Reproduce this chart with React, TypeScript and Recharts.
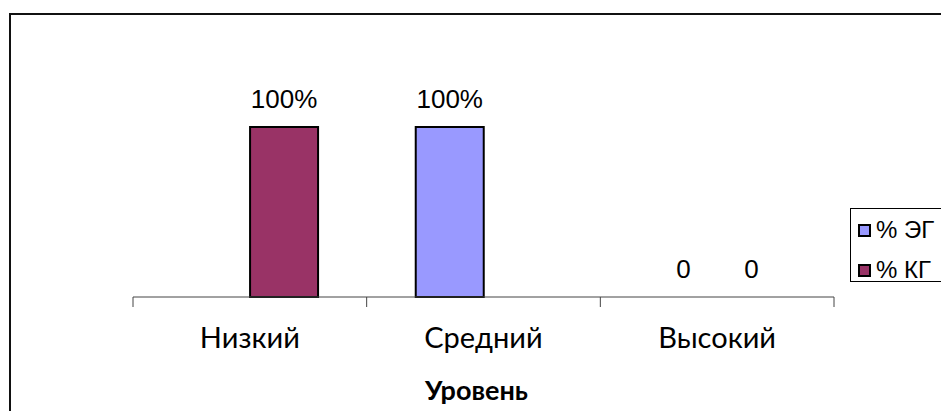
import React from 'react';
import { BarChart, Bar, XAxis, YAxis, LabelList, Legend, Label, Rectangle } from 'recharts';

const categories = ['Низкий', 'Средний', 'Высокий'];
const egValues: (number | null)[] = [null, 100, 0];
const kgValues: (number | null)[] = [100, null, 0];
const seriesNames = ['% ЭГ', '% КГ'];
const axisTitle = 'Уровень';

const data = categories.map((name, i) => ({ name, eg: egValues[i], kg: kgValues[i] }));

const W = 941;
const H = 411;
const MARGIN = { top: 127, right: 107, bottom: 4, left: 133 };
const XAXIS_H = 110;
const PLOT_W = W - MARGIN.left - MARGIN.right;
const BAND = PLOT_W / categories.length;

const COLORS = { eg: '#9999FF', kg: '#993366' };
const ARIAL = "'Liberation Sans', Arial, sans-serif";
const CALIBRI = "Lato, 'Open Sans', sans-serif";

const fmt = (v: any) => (v === null || v === undefined ? '' : Number(v) === 0 ? '0' : `${v}%`);

// keep zero-valued bars in the layout (so their "0" labels are drawn) without painting them
const zeroKeep = (value: any) => (value === 0 ? 0.01 : 0);

function BarShape(props: any) {
  if (!(props.height > 1)) return <g />;
  return <Rectangle {...props} />;
}

function ValueLabel(props: any) {
  const { x, y, width, height, value } = props;
  if (value === null || value === undefined || x === undefined || y === undefined) return null;
  const base = Number(y) + (Number(height) < 1 ? Number(height) : 0);
  return (
    <text
      x={Number(x) + Number(width) / 2}
      y={base - 19}
      textAnchor="middle"
      fontFamily={ARIAL}
      fontSize={26}
      fill="#000"
    >
      {fmt(value)}
    </text>
  );
}

function CategoryTick(props: any) {
  const { x, y, payload, index } = props;
  const half = BAND / 2;
  const last = index === categories.length - 1;
  return (
    <g>
      <line x1={x - half} y1={y} x2={x - half} y2={y + 10} stroke="#444" strokeWidth={1} />
      {last && <line x1={x + half} y1={y} x2={x + half} y2={y + 10} stroke="#444" strokeWidth={1} />}
      <text x={x} y={y + 51} textAnchor="middle" fontFamily={CALIBRI} fontSize={29} fill="#000">
        {payload.value}
      </text>
    </g>
  );
}

function LegendBox() {
  const items = [
    { name: seriesNames[0], color: COLORS.eg },
    { name: seriesNames[1], color: COLORS.kg },
  ];
  return (
    <div
      style={{
        border: '1px solid #000',
        background: '#fff',
        width: 120,
        height: 74,
        boxSizing: 'border-box',
        paddingTop: 6,
        paddingLeft: 7,
      }}
    >
      {items.map((p, i) => (
        <div key={i} style={{ display: 'flex', alignItems: 'center', height: 30, marginBottom: i === 0 ? 10 : 0 }}>
          <span
            style={{
              display: 'inline-block',
              width: 9,
              height: 9,
              background: p.color,
              border: '2px solid #000',
              marginRight: 5,
            }}
          />
          <span style={{ fontFamily: ARIAL, fontSize: 24, color: '#000', whiteSpace: 'nowrap' }}>{p.name}</span>
        </div>
      ))}
    </div>
  );
}

export default function App() {
  return (
    <div style={{ position: 'absolute', left: 0, top: 0, width: W, height: H, overflow: 'hidden', background: '#fff' }}>
      <div
        style={{
          position: 'absolute',
          left: 9,
          top: 13,
          width: 1000,
          height: 500,
          border: '2px solid #111',
        }}
      />
      <div style={{ position: 'absolute', left: 0, top: 0 }}>
        <BarChart width={W} height={H} data={data} margin={MARGIN} barCategoryGap="21%" barGap={0}>
          <YAxis hide domain={[0, 100]} />
          <XAxis
            dataKey="name"
            height={XAXIS_H}
            tickSize={0}
            tickMargin={0}
            tickLine={false}
            axisLine={{ stroke: '#444', strokeWidth: 1 }}
            tick={<CategoryTick />}
            interval={0}
          >
            <Label
              value={axisTitle}
              position="insideBottom"
              offset={7}
              dx={-7}
              fontFamily={CALIBRI}
              fontWeight="bold"
              fontSize={27}
              fill="#000"
            />
          </XAxis>
          <Legend
            layout="horizontal"
            verticalAlign="middle"
            align="center"
            content={<LegendBox />}
            wrapperStyle={{ position: 'absolute', left: 850, top: 208, width: 120 }}
          />
          <Bar
            dataKey="eg"
            name={seriesNames[0]}
            fill={COLORS.eg}
            stroke="#000"
            strokeWidth={2}
            minPointSize={zeroKeep}
            shape={<BarShape />}
            isAnimationActive={false}
          >
            <LabelList dataKey="eg" content={<ValueLabel />} />
          </Bar>
          <Bar
            dataKey="kg"
            name={seriesNames[1]}
            fill={COLORS.kg}
            stroke="#000"
            strokeWidth={2}
            minPointSize={zeroKeep}
            shape={<BarShape />}
            isAnimationActive={false}
          >
            <LabelList dataKey="kg" content={<ValueLabel />} />
          </Bar>
        </BarChart>
      </div>
    </div>
  );
}
